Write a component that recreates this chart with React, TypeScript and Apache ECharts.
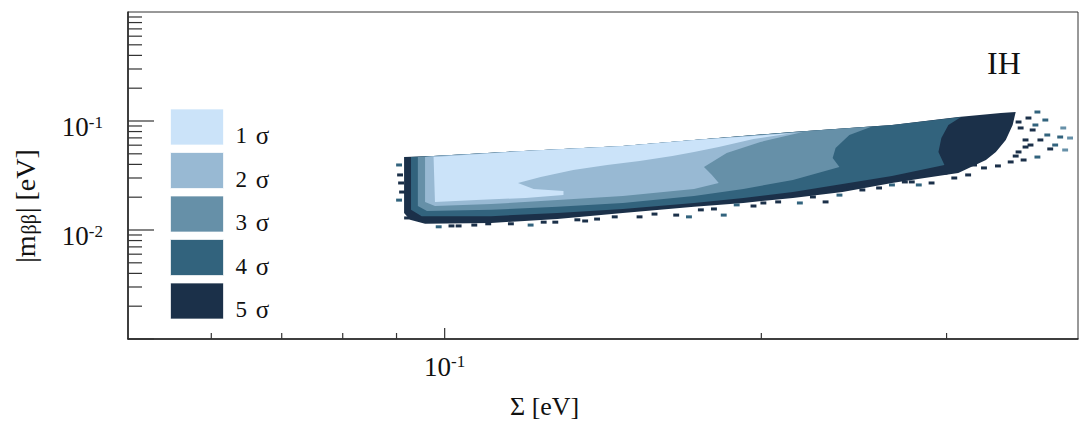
import React, { useEffect, useRef } from "react";
import * as echarts from "echarts";

const FONT = '"Liberation Serif", "Times New Roman", serif';

// Axis ranges [eV]
const X_MIN = 0.05;
const X_MAX = 0.4;
const Y_MIN = 0.001;
const Y_MAX = 1;

const sigmaLabels = ["1 σ", "2 σ", "3 σ", "4 σ", "5 σ"];
const sigmaColors = ["#cbe3f9", "#98b9d3", "#6690a8", "#32637d", "#1b3049"];

// Allowed regions (inverted hierarchy), closed outlines [Σ, |mββ|] in eV
const contour5 = [
  [0.0915, 0.0467], [0.0976, 0.0477], [0.1189, 0.0531], [0.1477, 0.059],
  [0.1726, 0.067], [0.2143, 0.0793], [0.2662, 0.0919], [0.3078, 0.1088],
  [0.3378, 0.1184], [0.349, 0.1209], [0.3467, 0.0919], [0.3415, 0.067],
  [0.3342, 0.052], [0.327, 0.0439], [0.3078, 0.0333], [0.2859, 0.03],
  [0.2662, 0.027], [0.2389, 0.0223], [0.2143, 0.0197], [0.1923, 0.0177],
  [0.1726, 0.0163], [0.1477, 0.0143], [0.128, 0.0126], [0.1107, 0.0116],
  [0.0958, 0.0114], [0.0927, 0.0124], [0.0915, 0.0143],
];
const contour4 = [
  [0.0929, 0.0467], [0.0976, 0.0477], [0.1189, 0.0531], [0.1477, 0.059],
  [0.1726, 0.067], [0.2143, 0.0793], [0.2662, 0.0919], [0.3097, 0.1088],
  [0.3012, 0.0919], [0.2966, 0.0698], [0.2947, 0.052], [0.2986, 0.0395],
  [0.2662, 0.0313], [0.2389, 0.0264], [0.2143, 0.0223], [0.1923, 0.0197],
  [0.1726, 0.0177], [0.1477, 0.0156], [0.128, 0.0143], [0.1107, 0.0134],
  [0.0951, 0.0134], [0.0929, 0.0153],
];
const contour3 = [
  [0.0943, 0.0467], [0.0976, 0.0477], [0.1189, 0.0531], [0.1477, 0.059],
  [0.1726, 0.067], [0.2143, 0.0793], [0.2549, 0.089], [0.2425, 0.0744],
  [0.2353, 0.0565], [0.2338, 0.0458], [0.2373, 0.0378], [0.2143, 0.0288],
  [0.1923, 0.0238], [0.1726, 0.0205], [0.1477, 0.0177], [0.128, 0.0163],
  [0.1107, 0.0153], [0.0962, 0.0149], [0.0943, 0.0166],
];
const contour2 = [
  [0.0958, 0.0467], [0.0976, 0.0477], [0.1189, 0.0531], [0.1477, 0.059],
  [0.1726, 0.067], [0.1996, 0.0744], [0.219, 0.0793], [0.1996, 0.0642],
  [0.1854, 0.0509], [0.1764, 0.0378], [0.1795, 0.032], [0.1822, 0.027],
  [0.1726, 0.0238], [0.1477, 0.0205], [0.128, 0.0188], [0.1107, 0.0173],
  [0.0979, 0.0166], [0.0958, 0.0181],
];
const contour1 = [
  [0.0976, 0.0467], [0.1189, 0.0531], [0.1477, 0.059], [0.1726, 0.067],
  [0.1966, 0.0729], [0.2143, 0.0776], [0.1966, 0.0684], [0.1822, 0.0577],
  [0.1726, 0.052], [0.1646, 0.0477], [0.1532, 0.043], [0.1427, 0.0395],
  [0.1325, 0.0355], [0.1234, 0.0306], [0.1174, 0.027], [0.1215, 0.0238],
  [0.1297, 0.0228], [0.1297, 0.0209], [0.1194, 0.0197], [0.1072, 0.0188],
  [0.0979, 0.0181],
];
const contours = [contour1, contour2, contour3, contour4, contour5];

// Isolated populated bins outside the smooth outlines: [Σ, |mββ|, σ level]
const edgeBins = [
  // high-Σ tail
  [0.3589, 0.1065, 5], [0.3512, 0.0979, 5], [0.3622, 0.0827, 5], [0.3566, 0.0577, 5],
  [0.349, 0.0477, 5], [0.3644, 0.0919, 4], [0.3684, 0.067, 5], [0.3724, 0.1021, 4],
  [0.3805, 0.0602, 4], [0.3889, 0.0542, 3], [0.3528, 0.0863, 5], [0.3566, 0.067, 5],
  [0.3512, 0.052, 5], [0.3605, 0.0602, 5], [0.366, 0.1209, 4], [0.374, 0.0744, 4],
  [0.3847, 0.0713, 4], [0.3873, 0.0863, 3], [0.3931, 0.0698, 3], [0.3764, 0.0554, 5],
  [0.366, 0.0467, 4], [0.3551, 0.0439, 5], [0.3452, 0.0421, 5], [0.3357, 0.0387, 5],
  [0.3256, 0.0371, 5], [0.3186, 0.0395, 5], [0.3145, 0.032, 5], [0.3051, 0.03, 5],
  [0.2986, 0.0333, 5],
  // lower edge
  [0.2903, 0.027, 5], [0.2823, 0.0259, 4], [0.278, 0.0276, 5], [0.2738, 0.0276, 5],
  [0.2662, 0.0259, 4], [0.2588, 0.0243, 5], [0.2495, 0.0233, 5], [0.2425, 0.0243, 5],
  [0.2373, 0.0209, 4], [0.2302, 0.0181, 5], [0.2239, 0.0201, 5], [0.2176, 0.0177, 4],
  [0.2075, 0.0181, 5], [0.2009, 0.0177, 5], [0.1966, 0.0166, 5], [0.1895, 0.017, 4],
  [0.1842, 0.0137, 4], [0.1803, 0.0156, 5], [0.1752, 0.0153, 5], [0.1707, 0.0132, 4],
  [0.166, 0.0137, 5], [0.1583, 0.014, 5], [0.1532, 0.0132, 5], [0.1451, 0.0132, 5],
  [0.1396, 0.0126, 5], [0.136, 0.0121, 5], [0.1337, 0.0124, 5], [0.1274, 0.0118, 5],
  [0.1242, 0.0118, 5], [0.1207, 0.0111, 4], [0.1156, 0.0114, 5], [0.11, 0.0114, 5],
  [0.1067, 0.0111, 5], [0.1031, 0.0109, 5], [0.1015, 0.0109, 5], [0.0987, 0.0107, 4],
  // low-Σ edge
  [0.0905, 0.0395, 4], [0.0907, 0.032, 5], [0.0909, 0.027, 5], [0.0911, 0.0223, 5],
  [0.0905, 0.0188, 4], [0.0921, 0.0129, 5],
];

// Axis tick positions [eV]
const xMajorTicks = [0.1];
const xMinorTicks = [0.06, 0.07, 0.08, 0.09, 0.2, 0.3];
const yMajorTicks = [0.001, 0.01, 0.1];
const yMinorTicks = [
  0.002, 0.003, 0.004, 0.005, 0.006, 0.007, 0.008, 0.009,
  0.02, 0.03, 0.04, 0.05, 0.06, 0.07, 0.08, 0.09,
  0.2, 0.3, 0.4, 0.5, 0.6, 0.7, 0.8, 0.9,
];
const labelledExponents = [-1, -2];

// Histogram bin half-size, as multiplicative factors on each log axis
const BIN_HALF_X = Math.pow(10, 0.0028);
const BIN_HALF_Y = Math.pow(10, 0.0138);

const TICK_COLOR = "#333";

function contourSeries(i: number) {
  const pts = contours[i];
  const color = sigmaColors[i];
  return {
    type: "custom",
    name: sigmaLabels[i],
    coordinateSystem: "cartesian2d",
    silent: true,
    itemStyle: { color },
    data: pts,
    encode: { x: 0, y: 1 },
    z: 2,
    renderItem: (params: any, api: any) => {
      if (params.dataIndex !== 0) return null;
      return {
        type: "polygon",
        shape: { points: pts.map((p) => api.coord(p)) },
        style: { fill: color },
      };
    },
  };
}

function tickSeries(values: number[], axis: "x" | "y", len: number) {
  return {
    type: "custom",
    coordinateSystem: "cartesian2d",
    silent: true,
    z: 6,
    data: values.map((v) => (axis === "x" ? [v, Y_MIN] : [X_MIN, v])),
    encode: { x: 0, y: 1 },
    renderItem: (_p: any, api: any) => {
      const pt = api.coord([api.value(0), api.value(1)]);
      const shape =
        axis === "x"
          ? { x1: pt[0], y1: pt[1], x2: pt[0], y2: pt[1] - len }
          : { x1: pt[0], y1: pt[1], x2: pt[0] + len, y2: pt[1] };
      return { type: "line", shape, style: { stroke: TICK_COLOR, lineWidth: 1.2 } };
    },
  };
}

const powerLabel = (v: number) => {
  const e = Math.round(Math.log10(v));
  if (Math.abs(Math.log10(v) - e) > 0.01) return "";
  return labelledExponents.includes(e) ? `{b|10}{s|${e}}` : "";
};

const labelRich = {
  b: { fontFamily: FONT, fontSize: 27, lineHeight: 27, color: "#111" },
  s: { fontFamily: FONT, fontSize: 17, lineHeight: 17, color: "#111", verticalAlign: "top" },
};

export default function App() {
  const ref = useRef<HTMLDivElement>(null);

  useEffect(() => {
    if (!ref.current) return;
    const chart = echarts.init(ref.current, undefined, { renderer: "svg" });

    const series: any[] = [];
    for (let i = 4; i >= 0; i--) series.push(contourSeries(i));
    series.push({
      type: "custom",
      name: "bins",
      coordinateSystem: "cartesian2d",
      silent: true,
      z: 3,
      data: edgeBins,
      encode: { x: 0, y: 1 },
      renderItem: (_p: any, api: any) => {
        const x = api.value(0);
        const y = api.value(1);
        const lvl = api.value(2);
        const p0 = api.coord([x / BIN_HALF_X, y * BIN_HALF_Y]);
        const p1 = api.coord([x * BIN_HALF_X, y / BIN_HALF_Y]);
        return {
          type: "rect",
          shape: { x: p0[0], y: p0[1], width: p1[0] - p0[0], height: p1[1] - p0[1] },
          style: { fill: sigmaColors[lvl - 1] },
        };
      },
    });
    series.push(tickSeries(yMajorTicks, "y", 26));
    series.push(tickSeries(yMinorTicks, "y", 14));
    series.push(tickSeries(xMajorTicks, "x", 11));
    series.push(tickSeries(xMinorTicks, "x", 6));

    chart.setOption({
      animation: false,
      grid: {
        left: 128,
        top: 12,
        width: 960,
        height: 327,
        show: true,
        borderColor: "#333",
        borderWidth: 1,
      },
      xAxis: {
        type: "log",
        logBase: 10,
        min: X_MIN,
        max: X_MAX,
        axisLine: { show: true, lineStyle: { color: "#222", width: 1.5 } },
        axisTick: { show: false },
        splitLine: { show: false },
        axisLabel: { margin: 14, formatter: powerLabel, rich: labelRich },
      },
      yAxis: {
        type: "log",
        logBase: 10,
        min: Y_MIN,
        max: Y_MAX,
        axisLine: { show: true, lineStyle: { color: "#222", width: 1.5 } },
        axisTick: { show: false },
        splitLine: { show: false },
        axisLabel: {
          margin: 25,
          padding: [12, 0, 0, 0],
          formatter: powerLabel,
          rich: labelRich,
        },
      },
      legend: {
        data: sigmaLabels,
        orient: "vertical",
        left: 170,
        top: 106,
        padding: 0,
        itemWidth: 53,
        itemHeight: 36,
        itemGap: 1.5,
        icon: "rect",
        selectedMode: false,
        itemStyle: { borderColor: "rgba(255,255,255,0.7)", borderWidth: 1 },
        formatter: (name: string) => {
          const [n, g] = name.split(" ");
          return `{n|${n}} {g|${g}}`;
        },
        textStyle: {
          fontFamily: FONT,
          fontSize: 23,
          lineHeight: 21,
          color: "#111",
          rich: {
            n: { fontFamily: FONT, fontSize: 23, lineHeight: 21, color: "#111", padding: [17, 0, 0, 7] },
            g: { fontFamily: FONT, fontSize: 25, lineHeight: 21, color: "#111", padding: [17, 0, 0, 3] },
          },
        },
      },
      graphic: [
        {
          type: "text",
          x: 987,
          y: 63,
          style: {
            text: "IH",
            font: `32px ${FONT}`,
            fill: "#111",
            align: "left",
            verticalAlign: "middle",
          },
        },
        {
          type: "text",
          x: 510,
          y: 406,
          style: {
            text: "Σ [eV]",
            font: `26px ${FONT}`,
            fill: "#111",
            align: "left",
            verticalAlign: "middle",
          },
        },
        {
          type: "text",
          x: 25,
          y: 206,
          rotation: Math.PI / 2,
          style: {
            text: "{a||m}{b|ββ}{a|| [eV]}",
            align: "center",
            verticalAlign: "middle",
            rich: {
              a: { fontFamily: FONT, fontSize: 28, lineHeight: 28, fill: "#111" },
              b: {
                fontFamily: FONT,
                fontSize: 20,
                lineHeight: 20,
                fill: "#111",
                verticalAlign: "bottom",
                padding: [6, 1, 0, 1],
              },
            },
          },
        },
      ],
      series,
    });

    return () => chart.dispose();
  }, []);

  return (
    <div
      ref={ref}
      style={{ position: "absolute", left: 0, top: 0, width: 1081, height: 426 }}
    />
  );
}
